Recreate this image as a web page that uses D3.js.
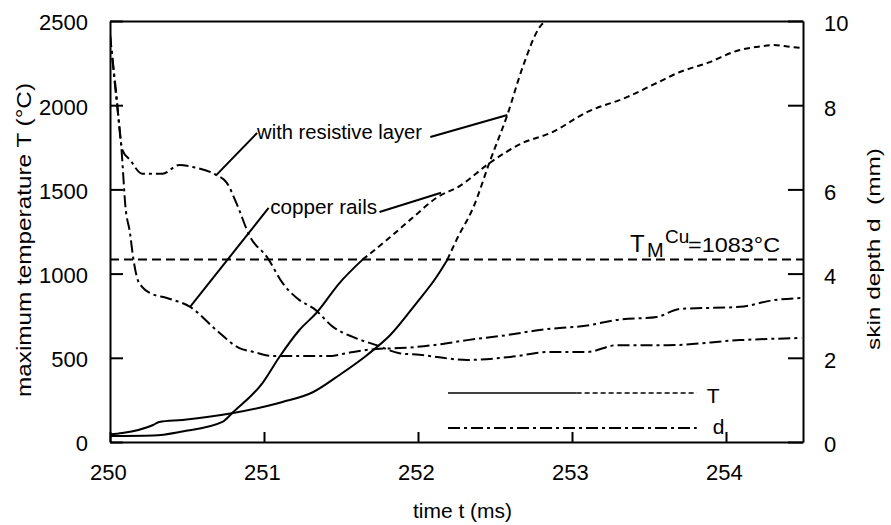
<!DOCTYPE html>
<html><head><meta charset="utf-8">
<script src="https://cdn.jsdelivr.net/npm/d3@7"></script>
<style>
body{margin:0;background:#fff;}
svg text{font-family:"Liberation Sans",Arial,Helvetica,sans-serif;fill:#000;}
</style></head><body>
<svg id="c" width="891" height="525"></svg>
<script>
// ---------- data ----------
const xTicks = [250, 251, 252, 253, 254];
const tempTicks = [0, 500, 1000, 1500, 2000, 2500];
const depthTicks = [0, 2, 4, 6, 8, 10];
const meltT = 1083;

// maximum temperature T, copper rails (deg C)
const cuT_t = [250, 250.28, 250.47, 250.73, 250.80, 250.99, 251.10, 251.23, 251.34, 251.49, 251.64, 251.82, 251.97, 252.12, 252.27, 252.47, 252.68, 252.86, 253.10, 253.36, 253.55, 253.70, 253.88, 254.09, 254.20, 254.31, 254.42, 254.50];
const cuT_v = [35, 38, 62, 119, 178, 350, 505, 665, 766, 944, 1083, 1217, 1336, 1450, 1520, 1660, 1776, 1835, 1960, 2049, 2132, 2197, 2251, 2328, 2346, 2357, 2346, 2340];

// maximum temperature T, with resistive layer (deg C)
const resT_t = [250, 250.08, 250.28, 250.32, 250.47, 250.63, 250.80, 251.02, 251.12, 251.32, 251.49, 251.67, 251.82, 251.99, 252.12, 252.19, 252.25, 252.36, 252.47, 252.58, 252.68, 252.79, 252.84];
const resT_v = [45, 53, 101, 119, 131, 148, 172, 214, 238, 297, 398, 517, 635, 825, 980, 1081, 1200, 1395, 1675, 1942, 2227, 2464, 2510];

// skin depth d, copper rails (mm)
const cuD_t = [250, 250.04, 250.075, 250.10, 250.13, 250.15, 250.18, 250.21, 250.26, 250.37, 250.52, 250.69, 250.84, 250.93, 251.06, 251.23, 251.41, 251.58, 251.73, 251.88, 252.10, 252.32, 252.58, 252.79, 253.12, 253.29, 253.55, 253.70, 254.09, 254.31, 254.49];
const cuD_v = [9.67, 8.2, 6.94, 5.6, 4.96, 4.39, 3.85, 3.68, 3.54, 3.42, 3.21, 2.66, 2.23, 2.14, 2.04, 2.04, 2.04, 2.14, 2.21, 2.23, 2.30, 2.42, 2.54, 2.66, 2.78, 2.90, 2.97, 3.16, 3.21, 3.37, 3.42];

// skin depth d, with resistive layer (mm)
const resD_t = [250, 250.04, 250.08, 250.13, 250.21, 250.34, 250.45, 250.54, 250.69, 250.76, 250.82, 250.91, 251.02, 251.12, 251.23, 251.32, 251.45, 251.58, 251.73, 251.88, 252.01, 252.32, 252.60, 252.86, 253.10, 253.29, 253.62, 254.09, 254.49];
const resD_v = [9.67, 8.3, 6.94, 6.70, 6.37, 6.37, 6.58, 6.53, 6.34, 6.15, 5.68, 4.87, 4.39, 3.78, 3.37, 3.18, 2.73, 2.49, 2.30, 2.11, 2.07, 1.95, 2.02, 2.14, 2.14, 2.30, 2.30, 2.42, 2.47];

// annotation leaders: [t, T] from text to the curve point it marks (T in deg C units)
const resLeaders = [
  {from: [250.955, 1835], toT: null, toD: [250.69, 6.34]},
  {from: [252.08, 1811], toT: [252.58, 1942], toD: null}
];
const cuLeaders = [
  {from: [251.03, 1390], toT: null, toD: [250.52, 3.21]},
  {from: [251.75, 1366], toT: [252.15, 1480], toD: null}
];

// ---------- chart ----------
const svg = d3.select("#c");
const x = d3.scaleLinear().domain([250, 254.5]).range([110, 803]);
const yT = d3.scaleLinear().domain([0, 2500]).range([442, 21]);
const yD = d3.scaleLinear().domain([0, 10]).range([442, 21]);

svg.append("clipPath").attr("id", "plot")
  .append("rect").attr("x", x(250)).attr("y", yT(2500))
  .attr("width", x(254.5) - x(250)).attr("height", yT(0) - yT(2500));

const lineT = d3.line().x(d => x(d[0])).y(d => yT(d[1])).curve(d3.curveMonotoneX);
const lineD = d3.line().x(d => x(d[0])).y(d => yD(d[1])).curve(d3.curveMonotoneX);

const g = svg.append("g").attr("clip-path", "url(#plot)");

function splitMelt(ts, vs) {
  const pts = ts.map((t, i) => [t, vs[i]]);
  const k = pts.findIndex(p => p[1] >= meltT - 5);
  return [pts.slice(0, k + 1), pts.slice(k)];
}

const DASH_T = "6,4";
const DASH_D = "12,4,3,4";

[[cuT_t, cuT_v], [resT_t, resT_v]].forEach(([ts, vs]) => {
  const [solid, dashed] = splitMelt(ts, vs);
  g.append("path").attr("d", lineT(solid)).attr("fill", "none")
    .attr("stroke", "#000").attr("stroke-width", 2);
  g.append("path").attr("d", lineT(dashed)).attr("fill", "none")
    .attr("stroke", "#000").attr("stroke-width", 2).attr("stroke-dasharray", DASH_T);
});

[[cuD_t, cuD_v], [resD_t, resD_v]].forEach(([ts, vs]) => {
  g.append("path").attr("d", lineD(ts.map((t, i) => [t, vs[i]]))).attr("fill", "none")
    .attr("stroke", "#000").attr("stroke-width", 2).attr("stroke-dasharray", DASH_D);
});

// melting point line
g.append("line")
  .attr("x1", x(250)).attr("x2", x(254.5))
  .attr("y1", yT(meltT)).attr("y2", yT(meltT))
  .attr("stroke", "#000").attr("stroke-width", 2).attr("stroke-dasharray", "9,5");

// axes
function styleAxis(sel) {
  sel.selectAll("path.domain").attr("stroke", "#000").attr("stroke-width", 2);
  sel.selectAll(".tick line").attr("stroke", "#000").attr("stroke-width", 2);
  sel.selectAll(".tick text").attr("font-size", 22)
    .attr("font-family", '"Liberation Sans",Arial,Helvetica,sans-serif').attr("fill", "#000");
}

const axL = svg.append("g").attr("transform", `translate(${x(250)},0)`)
  .call(d3.axisLeft(yT).tickValues(tempTicks).tickSizeInner(-13).tickSizeOuter(0).tickPadding(22).tickFormat(d3.format("d")));
styleAxis(axL);
axL.selectAll(".tick text").attr("dy", "0.4em");

const axR = svg.append("g").attr("transform", `translate(${x(254.5)},0)`)
  .call(d3.axisRight(yD).tickValues(depthTicks).tickSizeInner(-15).tickSizeOuter(0).tickPadding(21).tickFormat(d3.format("d")));
styleAxis(axR);
axR.selectAll(".tick text").attr("dy", "0.45em");

const axB = svg.append("g").attr("transform", `translate(0,${yT(0)})`)
  .call(d3.axisBottom(x).tickValues(xTicks).tickSizeInner(-10).tickSizeOuter(0).tickFormat(d3.format("d")));
styleAxis(axB);
axB.selectAll(".tick text").attr("y", 38).attr("dy", null).attr("dx", "-0.1em");

const axTop = svg.append("g").attr("transform", `translate(0,${yT(2500)})`)
  .call(d3.axisTop(x).tickValues([]).tickSizeOuter(0));
styleAxis(axTop);

// axis titles
svg.append("text").attr("transform", "translate(31,240) rotate(-90)")
  .attr("text-anchor", "middle").attr("font-size", 21)
  .attr("textLength", 314).attr("lengthAdjust", "spacingAndGlyphs")
  .text("maximum temperature T (°C)");
svg.append("text").attr("transform", "translate(880,249) rotate(-90)")
  .attr("text-anchor", "middle").attr("font-size", 19)
  .attr("textLength", 202).attr("lengthAdjust", "spacingAndGlyphs")
  .attr("xml:space", "preserve")
  .text("skin depth d  (mm)");
svg.append("text").attr("x", 462.5).attr("y", 518).attr("text-anchor", "middle")
  .attr("font-size", 21).text("time t (ms)");

// annotations
svg.append("text").attr("x", x(250.955)).attr("y", yT(1799)).attr("font-size", 20)
  .attr("textLength", 165).attr("lengthAdjust", "spacingAndGlyphs").text("with resistive layer");
svg.append("text").attr("x", x(251.04)).attr("y", yT(1354)).attr("font-size", 20.5)
  .attr("textLength", 107).attr("lengthAdjust", "spacingAndGlyphs").text("copper rails");

[...resLeaders, ...cuLeaders].forEach(l => {
  const x2 = l.toT ? x(l.toT[0]) : x(l.toD[0]);
  const y2 = l.toT ? yT(l.toT[1]) : yD(l.toD[1]);
  svg.append("line").attr("x1", x(l.from[0])).attr("y1", yT(l.from[1]))
    .attr("x2", x2).attr("y2", y2).attr("stroke", "#000").attr("stroke-width", 2);
});

// melting label
const mx = x(253.377), my = yT(1128);
const ml = svg.append("g").attr("transform", `translate(${mx},${my})`);
ml.append("text").attr("x", 0).attr("y", 0).attr("font-size", 24).text("T");
ml.append("text").attr("x", 17).attr("y", 5).attr("font-size", 20).text("M");
ml.append("text").attr("x", 35).attr("y", -9).attr("font-size", 19).text("Cu");
ml.append("text").attr("x", 58).attr("y", 0).attr("font-size", 21)
  .attr("textLength", 92).attr("lengthAdjust", "spacingAndGlyphs").text("=1083°C");

// legend
const legT0 = 252.195, legTmid = 253.03, legT1 = 253.81;
const legYT = yT(291), legYD = yT(83);
svg.append("line").attr("x1", x(legT0)).attr("x2", x(legTmid)).attr("y1", legYT).attr("y2", legYT)
  .attr("stroke", "#000").attr("stroke-width", 1.6);
svg.append("line").attr("x1", x(legTmid)).attr("x2", x(legT1)).attr("y1", legYT).attr("y2", legYT)
  .attr("stroke", "#000").attr("stroke-width", 1.6).attr("stroke-dasharray", "5,3");
svg.append("line").attr("x1", x(legT0)).attr("x2", x(legT1)).attr("y1", legYD).attr("y2", legYD)
  .attr("stroke", "#000").attr("stroke-width", 2).attr("stroke-dasharray", DASH_D);
svg.append("text").attr("x", x(legT1) + 10).attr("y", legYT + 10).attr("font-size", 21).text("T");
svg.append("text").attr("x", x(legT1) + 16).attr("y", legYD + 6).attr("font-size", 21).text("d");
</script>
</body></html>
